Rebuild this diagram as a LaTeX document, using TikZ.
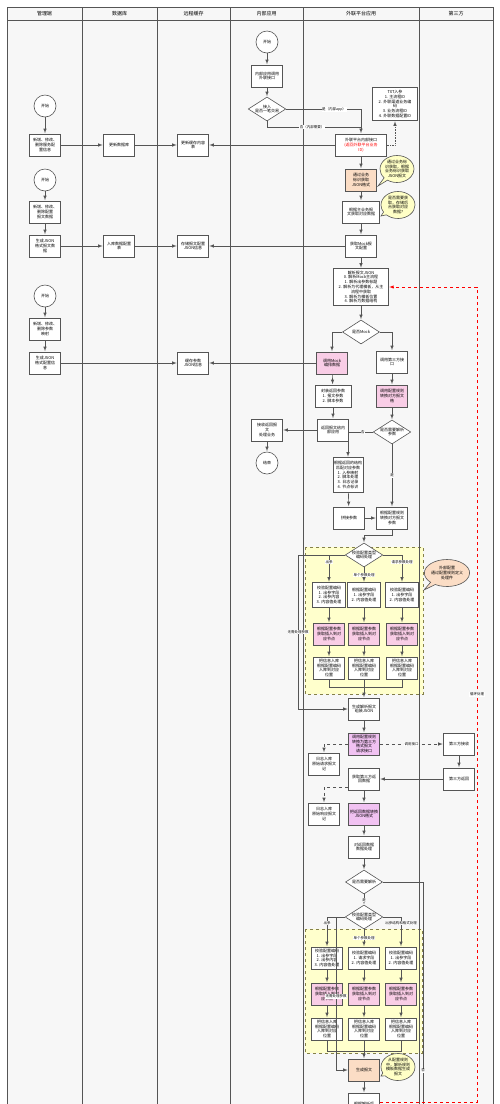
\documentclass[tikz,border=0pt]{standalone}
\usepackage{fontspec}
\setmainfont{Noto Sans CJK SC}
\usetikzlibrary{shapes.geometric,shapes.callouts}
\definecolor{lanegray}{HTML}{F7F7F7}
\definecolor{linegray}{HTML}{555555}
\definecolor{pinkfill}{HTML}{F9CDE6}
\definecolor{violetfill}{HTML}{F1C2F2}
\definecolor{peachfill}{HTML}{FBDDC5}
\definecolor{notefill}{HTML}{FFFFC6}
\definecolor{zonefill}{HTML}{FFFFCC}
\begin{document}
\begin{tikzpicture}[x=1pt,y=-1pt,>=latex,shorten >=0.5pt,line width=0.6pt,font=\fontsize{4}{4.8}\selectfont,
box/.style={rectangle,draw=linegray,fill=white,minimum width=31pt,minimum height=22pt,inner sep=1pt,align=center},
pinkbox/.style={box,fill=pinkfill},violetbox/.style={box,fill=violetfill},peachbox/.style={box,fill=peachfill},
term/.style={circle,draw=linegray,fill=white,minimum size=22pt,inner sep=0pt},
choice/.style={diamond,aspect=1.6,draw=linegray,fill=white,minimum width=37pt,minimum height=24pt,inner sep=0pt,align=center},
note/.style={ellipse callout,draw=linegray,fill=notefill,minimum width=34pt,minimum height=27pt,inner sep=0pt,align=center},
lbl/.style={fill=white,inner sep=0.6pt,font=\fontsize{3.5}{4}\selectfont},
zone/.style={draw=black!55!yellow,dashed,fill=zonefill,line width=0.7pt},
lane/.style={draw=linegray,line width=0.8pt}]
\useasboundingbox (0,0) rectangle (500,1104);
\clip (0,0) rectangle (500,1104);
\fill[white] (0,0) rectangle (500,1104);
\draw[lane,fill=lanegray] (7,7) rectangle (493,1112);
\draw[zone] (305,547) rectangle (423,694);
\draw[zone] (305,929) rectangle (422,1053);
\draw[lane] (7,20) -- (493,20);
\foreach \x in {82,157,230,303,419} \draw[lane] (\x,7) -- (\x,1112);
\begin{scope}[every node/.style={font=\fontsize{5}{6}\selectfont}]
\node (hd1) at (44.5,13.5) {管理端};
\node (hd2) at (119.5,13.5) {数据库};
\node (hd3) at (193.5,13.5) {远程缓存};
\node (hd4) at (266.5,13.5) {内部应用};
\node (hd5) at (361,13.5) {外联平台应用};
\node (hd6) at (456,13.5) {第三方};
\end{scope}
\begin{scope}
% 管理端
\node[term] (g0) at (45,106) {开始};
\node[box] (g1) at (45,145) {新增、修改、\\删除服务配\\置信息};
\node[term] (g2) at (45,180) {开始};
\node[box] (g3) at (45,212) {新增、修改、\\删除配置\\报文数据};
\node[box] (g4) at (45,246) {生成JSON\\格式报文数\\据};
\node[term] (g5) at (45,296) {开始};
\node[box] (g6) at (45,329) {新增、修改、\\删除参数\\映射};
\node[box] (g7) at (45,363) {生成JSON\\格式配置信\\息};
% 数据库 / 远程缓存
\node[box] (s1) at (119,145) {更新数据库};
\node[box] (s2) at (119,246) {入库数据配置\\表};
\node[box] (h1) at (193,145) {更新缓存内容\\表};
\node[box] (h2) at (193,246) {存储报文配置\\JSON信息};
\node[box] (h3) at (193,363) {缓存参数\\JSON信息};
% 内部应用
\node[term] (n0) at (267,42) {开始};
\node[box] (n1) at (267,76) {内部应用调用\\外联接口};
\node[choice] (n2) at (267,109) {接入\\是否一笔交易};
\node[box] (n3) at (267,430) {接收返回报\\文\\处理业务};
\node[term] (n4) at (267,463) {结束};
% 外联平台应用
\node[box,minimum width=51pt] (w1) at (361,145) {外联平台内部接口\\{\color{red}(返回外联平台业务}\\{\color{red}ID)}};
\node[box,minimum width=45pt,minimum height=33pt] (w2) at (395,104) {TXT入参\\1. 主流程ID\\2. 外联渠道业务编\\码\\3. 业务流程ID\\4. 外联数据配置ID};
\node[peachbox] (w3) at (361,180) {通过业务\\标识获取\\JSON格式};
\node[box,minimum width=37pt] (w4) at (361,212) {根据主业务报\\文获取对应数据};
\node[box] (w5) at (361,246) {获取Mock报\\文配置};
\node[box,minimum width=55pt,minimum height=37pt] (w6) at (361,287) {解析报文JSON\\0. 解析Mock主流程\\1. 解析出参数标题\\2. 解析为代理模板，从主\\流程中获取\\3. 解析为模板位置\\4. 解析为数据结构};
\node[choice] (w7) at (361,332) {是否Mock};
\node[pinkbox] (w8) at (332,363) {调用Mock\\编排数据};
\node[box] (w9) at (392,362) {调用第三方接\\口};
\node[box,minimum width=36pt] (w10) at (333,396) {封装返回参数\\1. 报文参数\\2. 脚本参数};
\node[pinkbox] (w11) at (392,396) {调用配置规则\\转换对方报文\\格};
\node[box] (w12) at (333,430) {返回报文给内\\部应用};
\node[choice] (w13) at (392,432) {是否需要解析\\参数};
\node[box,minimum width=30pt,minimum height=35pt] (w14) at (348,475) {根据返回的结构\\匹配对应参数\\1. 入参映射\\2. 脚本处理\\3. 日志记录\\4. 节点标识};
\node[box] (w15) at (349,518) {拼接参数};
\node[box] (w16) at (392,518) {根据配置规则\\转换对方报文\\参数};
\node[choice] (w17) at (364,555) {校验配置类型\\编码处理};
\node[box,minimum width=33pt,minimum height=25pt] (a1) at (329,595) {校验配置编码\\1. 出参字段\\2. 出参内容\\3. 内容值处理};
\node[box,minimum width=33pt,minimum height=25pt] (a2) at (364,595) {根据配置编码\\1. 出参字段\\2. 内容值处理};
\node[box,minimum width=33pt,minimum height=25pt] (a3) at (402,595) {校验配置编码\\1. 出参字段\\2. 内容值处理};
\node[pinkbox] (p1) at (329,634) {根据配置参数\\获取插入到对\\应节点};
\node[pinkbox] (p2) at (364,634) {根据配置参数\\获取插入到对\\应节点};
\node[pinkbox] (p3) at (402,634) {根据配置参数\\获取插入到对\\应节点};
\node[box] (c1) at (329,668) {把信息入库\\根据配置编码\\入库到对应\\位置};
\node[box] (c2) at (364,668) {把信息入库\\根据配置编码\\入库到对应\\位置};
\node[box] (c3) at (402,668) {把信息入库\\根据配置编码\\入库到对应\\位置};
\node[box] (w18) at (364,709) {生成解析报文\\组装JSON};
\node[violetbox] (w19) at (364,744) {调用配置规则\\转换为第三方\\格式报文\\请求接口};
\node[box] (n5) at (324,764) {日志入库\\原始请求报文\\记};
\node[box] (w20) at (364,779) {获取第三方返\\回数据};
\node[box] (n6) at (324,814) {日志入库\\原始响应报文\\记};
\node[violetbox] (w21) at (364,814) {把返回数据转换\\JSON格式};
\node[box] (w22) at (364,847) {对返回数据\\数据处理};
\node[choice] (w23) at (364,882) {是否需要解析};
\node[choice] (w24) at (364,917) {校验配置类型\\编码处理};
\node[box] (e1) at (327,958) {校验配置编码\\1. 出参字段\\2. 出参内容\\3. 内容值处理};
\node[box] (e2) at (364,958) {校验配置编码\\1. 请求字段\\2. 内容值处理};
\node[box] (e3) at (401,958) {校验配置编码\\1. 出参字段\\2. 内容值处理};
\node[pinkbox] (q1) at (327,994) {根据配置参数\\获取插入到对\\应节点};
\node[pinkbox] (q2) at (364,994) {根据配置参数\\获取插入到对\\应节点};
\node[pinkbox] (q3) at (401,994) {根据配置参数\\获取插入到对\\应节点};
\node[box] (r1) at (327,1029) {把信息入库\\根据配置编码\\入库到对应\\位置};
\node[box] (r2) at (364,1029) {把信息入库\\根据配置编码\\入库到对应\\位置};
\node[box] (r3) at (401,1029) {把信息入库\\根据配置编码\\入库到对应\\位置};
\node[peachbox] (w25) at (364,1070) {生成报文};
\node[box] (w26) at (364,1104) {根据解析后};
% 第三方
\node[box] (t1) at (459,744) {第三方接收};
\node[box] (t2) at (459,779) {第三方返回};
% 注释
\node[note,callout absolute pointer={(378,186)}] (b1) at (397,169) {通过业务标\\识获取，根据\\业务标识获取\\JSON报文};
\node[note,callout absolute pointer={(381,216)}] (b2) at (398,205) {是否需要获\\取，存储后\\台获取对应\\数据?};
\node[note,fill=peachfill,minimum width=44pt] (b3) at (447,573) [callout absolute pointer={(424,590)}] {外部配置\\通过配置规则定义\\处理件};
\node[note,callout absolute pointer={(381,1076)}] (b4) at (398,1067) {从配置规则\\中，解析规则\\模板数据生成\\报文};
\coordinate (j1) at (361,127);
\coordinate (j2) at (364,535);
\coordinate (j3) at (298,555);
\coordinate (j5) at (477,287);
\coordinate (j6) at (423,882);
\coordinate (j7) at (423,1112);
\coordinate (j8) at (336,917);
\end{scope}
\begin{scope}[draw=linegray]
\draw[->] (g0) edge (g1) (g1) edge (s1) (s1) edge (h1) (w1) edge (h1);
\draw[->] (g2) edge (g3) (g3) edge (g4) (g4) edge (s2) (s2) edge (h2) (w5) edge (h2);
\draw[->] (g5) edge (g6) (g6) edge (g7) (g7) edge (h3) (w8) edge (h3);
\draw[->] (n0) edge (n1) (n1) edge (n2);
\draw[->] (n2.east) -| node[lbl,pos=0.32]{是（内部app）} (w1.north);
\draw (n2.south) |- node[lbl,pos=0.74]{否（内部需要）} (j1);
\draw[->,densely dotted] (w1.east) -| (w2.south);
\draw[->] (w1) edge (w3) (w3) edge (w4) (w4) edge (w5) (w5) edge (w6) (w6) edge (w7);
\draw[->] (w7.west) -| (w8.north);
\draw[->] (w7.east) -| (w9.north);
\draw[->] (w8) edge (w10) (w10) edge (w12) (w12) edge (n3) (n3) edge (n4);
\draw[->] (w9) edge (w11) (w11) edge (w13);
\draw[->] (w13.west) -| node[lbl,pos=0.2]{否} (w14.north);
\draw[->] (w13) edge node[lbl]{是} (w16);
\draw[->] (w14) edge (w15) (w15) edge (w16);
\draw[->] (w16.south) |- (j2) -- (w17.north);
\draw[->] (w17.west) -- (j3) |- node[lbl,pos=0.25]{无需处理参数} (w18.west);
\draw[->] (w17.west) -| node[lbl,pos=0.63]{出参} (a1.north);
\draw[->] (w17.east) -| node[lbl,pos=0.63]{请求参数处理} (a3.north);
\draw[->] (w17) edge node[lbl]{单个参数处理} (a2);
\draw[->] (a1) edge (p1) (p1) edge (c1) (a2) edge (p2) (p2) edge (c2) (a3) edge (p3) (p3) edge (c3);
\draw (c1.south) -- ++(0,8) -| (c3.south);
\draw[->] (c2) edge (w18) (w18) edge (w19);
\draw[->,dashed] (w19) edge node[lbl]{调用接口} (t1);
\draw[->,dashed] (w19.west) -| (n5.north);
\draw[->] (t1) edge (t2) (t2) edge (w20);
\draw[->,dashed] ([yshift=-8pt]w20.west) -| (n6.north);
\draw[->] (w20) edge (w21) (w21) edge (w22) (w22) edge (w23);
\draw[->] (w23) edge node[lbl,pos=0.55]{是} (w24);
\draw (w23.east) -- (j6) -- node[lbl,pos=0.82]{否} (j7);
\draw[->] (w24.west) -| node[lbl,pos=0.6]{出参} (e1.north);
\draw[->] (w24.east) -| node[lbl,pos=0.6]{出参结构和格式处理} (e3.north);
\draw[->] (w24) edge node[lbl]{单个参数处理} (e2);
\draw[->] (e1) edge (q1) (q1) edge (r1) (e2) edge (q2) (q2) edge (r2) (e3) edge (q3) (q3) edge (r3);
\draw (r1.south) -- ++(0,11) -| (r3.south);
\draw[->] (r2) edge (w25) (w25) edge (w26);
\draw[->] (w24.west) -- (j8) |- node[lbl,pos=0.26]{无需处理参数} (w25.west);
\draw[->,draw=red,dashed,line width=0.5pt] ([yshift=2pt]w26.east) -| node[lbl,pos=0.75,text=black]{循环处理} (j5) -- (w6.east);
\end{scope}
\end{tikzpicture}
\end{document}
